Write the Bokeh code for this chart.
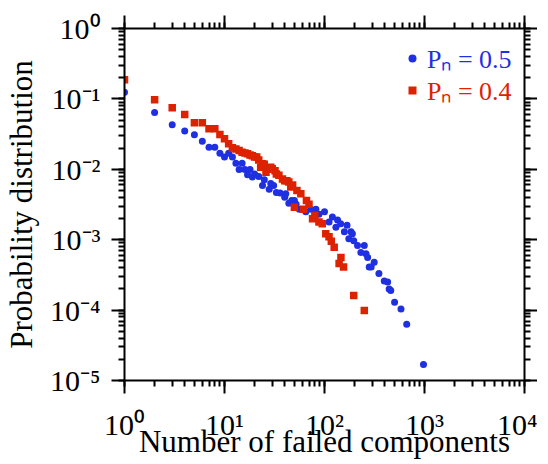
from bokeh.plotting import figure
from bokeh.models import (LogAxis, LogTicker, CustomJSTickFormatter, Legend,
                          LegendItem, Range1d)
from bokeh.embed import file_html
from bokeh.resources import INLINE

# ---- data ----
red_x = [1, 2, 3, 4, 5, 6, 7, 8, 9, 10, 11, 12, 13, 14, 15, 16, 17, 18, 19, 20,
         21, 22, 23, 24, 25, 26, 27, 28, 29, 30, 32, 33, 35, 38, 40, 42, 44, 46,
         48, 50, 53, 58, 62, 66, 70, 76, 80, 88, 95, 103, 111, 117, 125, 140,
         146, 155, 196, 250]
red_y = [0.187, 0.097, 0.075, 0.060, 0.046, 0.046, 0.0376, 0.0376, 0.0312, 0.0271,
         0.023, 0.0202, 0.0195, 0.0185, 0.0175, 0.0170, 0.0166, 0.0160, 0.0156, 0.0150,
         0.0149, 0.0135, 0.0107, 0.0120, 0.0118, 0.0091, 0.0100, 0.0105, 0.0107, 0.0102,
         0.0095, 0.0086, 0.0082, 0.0073, 0.0069, 0.0069, 0.0066, 0.0056, 0.0060, 0.0029,
         0.0050, 0.0045, 0.0027, 0.0036, 0.0032, 0.00198, 0.0022, 0.00178, 0.00168,
         0.00121, 0.00110, 0.00095, 0.00078, 0.00046, 0.00056, 0.00041, 0.000161,
         0.0000986]

blue_x = [1, 2, 3, 4, 5, 6, 7, 8, 9, 10, 11, 12, 13, 14, 15, 16, 17, 18, 19, 20,
          22, 24, 25, 28, 29, 31, 33, 36, 40, 41, 44, 47, 50, 52, 56, 65, 73, 82,
          88, 100, 111, 120, 130, 135, 145, 158, 168, 175, 184, 190, 196, 214, 231,
          250, 260, 270, 280, 293, 314, 350, 396, 428, 443, 460, 502, 582, 664, 977]
blue_y = [0.124, 0.064, 0.043, 0.035, 0.031, 0.025, 0.0206, 0.0206, 0.0169, 0.0149,
          0.0169, 0.0149, 0.0122, 0.0099, 0.0122, 0.0099, 0.0084, 0.0099, 0.0078, 0.0086,
          0.0079, 0.0059, 0.0071, 0.0052, 0.0063, 0.0059, 0.0047, 0.0046, 0.0040, 0.0045,
          0.0033, 0.0036, 0.0036, 0.0032, 0.0027, 0.0025, 0.0027, 0.0027, 0.0023, 0.0025,
          0.00178, 0.0021, 0.0015, 0.0019, 0.00168, 0.0013, 0.0016, 0.00103, 0.0013,
          0.00121, 0.00097, 0.00083, 0.00066, 0.00083, 0.00063, 0.00056, 0.00041,
          0.00041, 0.00048, 0.00033, 0.00026, 0.00025, 0.0002, 0.00019, 0.000129,
          0.000104, 0.000063, 0.0000169]

label_blue = "P\u2099 = 0.5"
label_red = "P\u2099 = 0.4"
x_title = "Number of failed components"
y_title = "Probability distribution"

FONT = "Liberation Serif"
BLUE = "#1f2fe2"
RED = "#dd2200"

p = figure(x_axis_type="log", y_axis_type="log",
           x_axis_location=None, y_axis_location=None,
           x_range=Range1d(1, 1e4), y_range=Range1d(1e-5, 1),
           frame_width=400, frame_height=352,
           min_border_left=124, min_border_right=0,
           min_border_top=28, min_border_bottom=70,
           output_backend="svg", toolbar_location=None)
p.xgrid.visible = False
p.ygrid.visible = False
p.outline_line_color = None
p.background_fill_color = "white"

fmt_code = """
const sup = {'0':'\u2070','1':'\u00b9','2':'\u00b2','3':'\u00b3','4':'\u2074','5':'\u2075','-':'\u207b'};
const e = Math.round(Math.log10(tick));
return '10' + String(e).split('').map(c => sup[c]).join('');
"""


def tick_axis(ndec):
    """Axis that draws the line and the (major + minor) ticks, no labels."""
    ax = LogAxis(ticker=LogTicker(mantissas=[1], desired_num_ticks=ndec,
                                  num_minor_ticks=10))
    ax.axis_line_width = 2
    ax.axis_line_color = "black"
    ax.major_tick_line_width = 2
    ax.major_tick_line_color = "black"
    ax.major_tick_out = 13
    ax.major_tick_in = 0
    ax.minor_tick_line_width = 2
    ax.minor_tick_line_color = "black"
    ax.minor_tick_out = 6
    ax.minor_tick_in = 0
    ax.formatter = CustomJSTickFormatter(code="return '';")
    ax.major_label_text_font_size = "1px"
    ax.major_label_standoff = 0
    return ax


def label_axis(ndec, title, standoff, title_standoff):
    """Axis that only carries the tick labels and the axis title."""
    ax = LogAxis(ticker=LogTicker(mantissas=[1], desired_num_ticks=ndec,
                                  num_minor_ticks=10))
    ax.axis_line_color = None
    ax.major_tick_line_color = None
    ax.minor_tick_line_color = None
    ax.major_tick_out = 0
    ax.major_tick_in = 0
    ax.minor_tick_out = 0
    ax.minor_tick_in = 0
    ax.formatter = CustomJSTickFormatter(code=fmt_code)
    ax.major_label_text_font = FONT
    ax.major_label_text_font_size = "30px"
    ax.major_label_text_color = "black"
    ax.major_label_standoff = standoff
    ax.axis_label = title
    ax.axis_label_text_font = FONT
    ax.axis_label_text_font_size = "31px"
    ax.axis_label_text_font_style = "normal"
    ax.axis_label_text_color = "black"
    ax.axis_label_standoff = title_standoff
    return ax


p.add_layout(tick_axis(5), "below")
p.add_layout(label_axis(5, x_title, 14, -20), "below")
p.add_layout(tick_axis(6), "left")
p.add_layout(label_axis(6, y_title, 11, 8), "left")
p.add_layout(tick_axis(5), "above")
p.add_layout(tick_axis(6), "right")

rb = p.scatter(blue_x, blue_y, marker="circle", size=7, fill_color=BLUE,
               line_color=None)
rr = p.scatter(red_x, red_y, marker="square", size=7.5, fill_color=RED,
               line_color=None)


def make_legend(label, rend, color, yloc):
    lg = Legend(items=[LegendItem(label=label, renderers=[rend])],
                location=(278, yloc), orientation="vertical")
    lg.label_text_font = FONT
    lg.label_text_font_size = "26px"
    lg.label_text_color = color
    lg.background_fill_alpha = 0
    lg.border_line_color = None
    lg.padding = 0
    lg.margin = 0
    lg.spacing = 0
    lg.glyph_width = 20
    lg.glyph_height = 20
    lg.label_standoff = 5
    return lg


p.add_layout(make_legend(label_blue, rb, BLUE, 304))
p.add_layout(make_legend(label_red, rr, RED, 272))

open("out.html", "w").write(file_html(p, INLINE))
